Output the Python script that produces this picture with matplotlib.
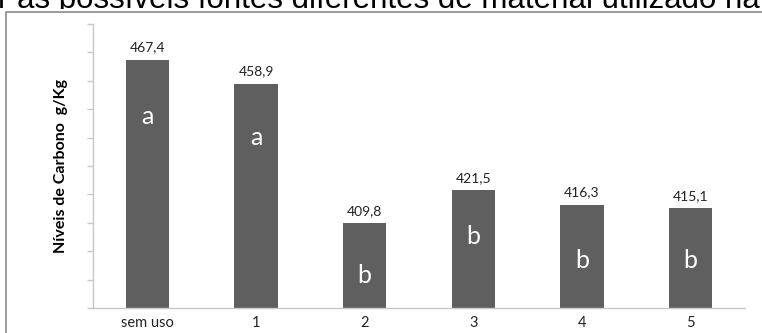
import matplotlib.pyplot as plt
from matplotlib.patches import Rectangle
from matplotlib.transforms import Bbox, TransformedBbox

# teor de carbono por tratamento
categorias = ['sem uso', '1', '2', '3', '4', '5']
carbono = [467.4, 458.9, 409.8, 421.5, 416.3, 415.1]
letras = ['a', 'a', 'b', 'b', 'b', 'b']
rotulos = ['467,4', '458,9', '409,8', '421,5', '416,3', '415,1']

# altura onde cada letra fica dentro da barra
altura_letra = [447.5, 440.0, 391.6, 405.1, 396.9, 396.9]

fig = plt.figure(figsize=(7.62, 3.33), dpi=100)

# linha do texto acima, cortada pela area do grafico
titulo = fig.text(-0.002, (333 - 8) / 333,
                  'r as possíveis fontes diferentes de material utilizado na',
                  family='Liberation Sans', fontsize=22.5, color='black',
                  ha='left', va='baseline')
titulo.set_clip_box(TransformedBbox(Bbox([[0, (333 - 9) / 333], [1, 1]]),
                                    fig.transFigure))
titulo.set_clip_on(True)

# moldura do grafico (continua para fora da imagem)
fig.patches.append(Rectangle((6 / 762, -0.1), 1.0, (333 - 12) / 333 + 0.1,
                             transform=fig.transFigure, fill=False,
                             edgecolor='#8a8a8a', linewidth=1.2))

ax = fig.add_axes([93 / 762, 25 / 333, (745 - 93) / 762, (308.5 - 24.5) / 333])

x = range(len(categorias))
ax.bar(x, carbono, width=0.4, color='#5f5f5f', zorder=2)

for i, (v, r, l, h) in enumerate(zip(carbono, rotulos, letras, altura_letra)):
    ax.annotate(r, (i, v), xytext=(0, 6), textcoords='offset points',
                ha='center', va='baseline', fontsize=10, family='Lato',
                color='#222222')
    ax.text(i, h, l, ha='center', va='center', color='white',
            fontsize=18, family='Lato')

ax.set_xlim(-0.5, 5.5)
ax.set_ylim(380, 480)
ax.set_yticks(range(380, 481, 10))
ax.set_yticklabels([])
ax.set_xticks(list(x))
ax.set_xticklabels(categorias, family='Lato', fontsize=10.5, color='#222222')

for s in ['top', 'right']:
    ax.spines[s].set_visible(False)
for s in ['left', 'bottom']:
    ax.spines[s].set_color('#c8c8c8')
    ax.spines[s].set_linewidth(1.0)
ax.tick_params(axis='y', length=4, color='#c8c8c8', width=1.0)
ax.tick_params(axis='x', length=0, pad=6)

ax.set_ylabel('Níveis de Carbono  g/Kg', family='Lato', fontweight='bold',
              fontsize=11.5, color='black')
ax.yaxis.set_label_coords(-0.038, 0.5)

plt.savefig('out.png', dpi=100)
